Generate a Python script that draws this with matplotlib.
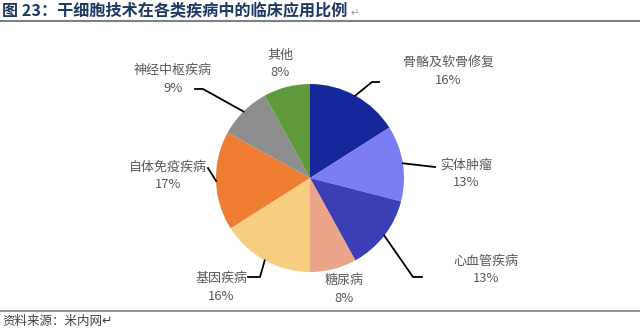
import numpy as np
import matplotlib
matplotlib.use("Agg")
import matplotlib.pyplot as plt

plt.rcParams['font.family'] = ['Noto Sans CJK SC', 'DejaVu Sans']

# 数据
categories = ["骨骼及软骨修复", "实体肿瘤", "心血管疾病", "糖尿病",
              "基因疾病", "自体免疫疾病", "神经中枢疾病", "其他"]
shares = [16, 13, 13, 8, 16, 17, 9, 8]
colors = ["#14289B", "#7B7EF2", "#3B3EB4", "#EBA58B",
          "#F7CE80", "#EE7D31", "#8E8E8E", "#5F9B3A"]

title = "图 23：干细胞技术在各类疾病中的临床应用比例"
source = "资料来源：米内网↵"

# 标签位置 (像素, 从顶部量) 和引线折点
label_pos = [(448, 62), (466, 165), (486, 261), (344, 280),
             (221, 278), (168, 167), (173, 70), (280, 55)]
elbows = [[(372, 82), (379, 82)],
          [(435, 167)],
          [(413, 277), (422, 277)],
          None,
          [(260, 277), (248, 277)],
          [(208, 168)],
          [(203, 89), (195, 89)],
          None]

W, H = 640, 333
cx, cy, r = 310, 178, 94

fig = plt.figure(figsize=(6.4, 3.33), dpi=100)
ax = fig.add_axes([0, 0, 1, 1])
wedges, _ = ax.pie(shares, colors=colors, startangle=90, counterclock=False,
                   center=(cx, H - cy), radius=r, frame=True,
                   wedgeprops=dict(linewidth=0))
ax.set_xlim(0, W)
ax.set_ylim(0, H)
ax.axis('off')

for w, name, val, (lx, ly), elb in zip(wedges, categories, shares, label_pos, elbows):
    ax.text(lx, H - ly, name, ha='center', va='center', fontsize=9.4, color='#595959')
    ax.text(lx, H - ly - 18, f"{val}%", ha='center', va='center', fontsize=9.4, color='#595959')
    if elb:
        mid = np.deg2rad((w.theta1 + w.theta2) / 2)
        xs = [cx + r * np.cos(mid)] + [p[0] for p in elb]
        ys = [H - cy + r * np.sin(mid)] + [H - p[1] for p in elb]
        ax.plot(xs, ys, color='black', lw=1.3)

# 标题与分隔线
t = ax.text(2, H - 11, title, ha='left', va='center', fontsize=11.6,
            fontweight='bold', color='#1F3864')
ax.annotate("↵", xy=(1, 0.5), xycoords=t, xytext=(2, -2), textcoords='offset points',
            ha='left', va='center', fontsize=7, color='#909090')
ax.plot([0, W], [H - 21, H - 21], color='#808080', lw=1.5)
ax.plot([0, W], [H - 311, H - 311], color='#808080', lw=1.2)
ax.text(2, H - 322, source, ha='left', va='center', fontsize=9,
        style='italic', color='#404040')

fig.savefig("out.png", dpi=100)
